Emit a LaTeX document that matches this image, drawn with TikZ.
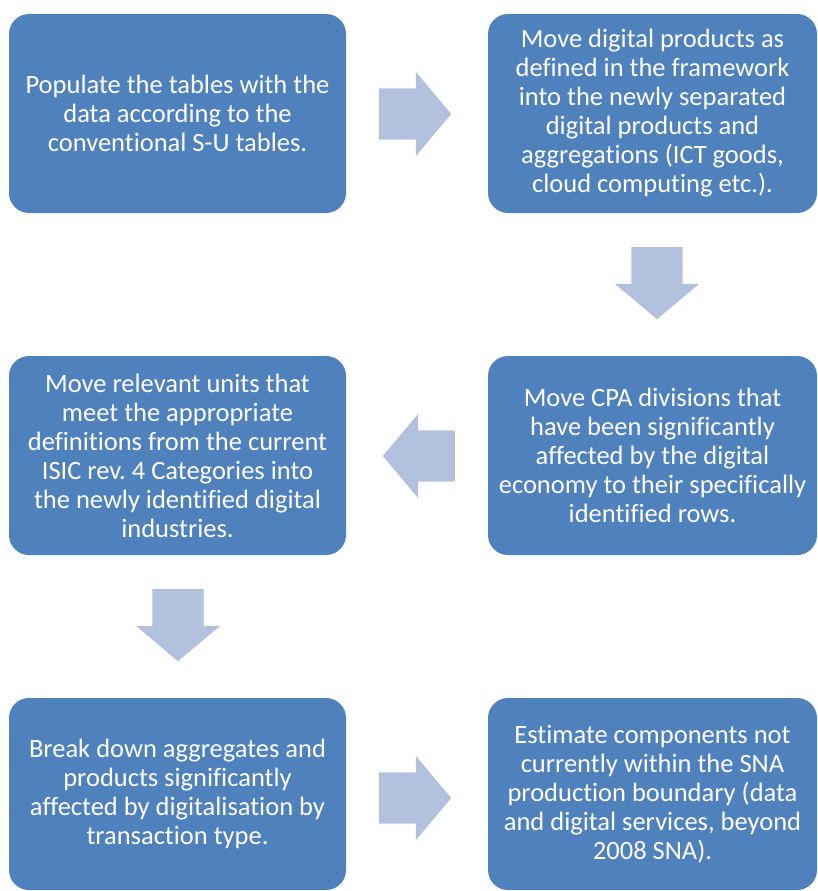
\documentclass[tikz,border=0pt]{standalone}
\usepackage{fontspec}
\setmainfont[Ligatures=NoCommon]{Carlito}
\usetikzlibrary{shapes.arrows}
\definecolor{stepblue}{HTML}{4F81BD}
\definecolor{arrowblue}{HTML}{B2C1DE}
\begin{document}
\begin{tikzpicture}[x=1pt,y=1pt,
    stepbox/.style={rectangle, rounded corners=20pt, fill=stepblue, text=white,
      align=center, inner sep=0pt, minimum width=337pt, minimum height=199pt,
      font=\fontsize{26.5}{29}\selectfont\frenchspacing},
    blockarrow/.style={single arrow, fill=arrowblue, inner xsep=0pt, inner ysep=25.5pt,
      minimum height=72pt, single arrow head extend=16.5pt,
      single arrow tip angle=100, anchor=tail}]
    \useasboundingbox (0,0) rectangle (817,-891);
    \node[stepbox] (populate) at (177.5,-113.5) {Populate the tables with the\\data according to the\\conventional S-U tables.};
    \node[stepbox, minimum width=329pt] (digprod) at (652.5,-113.5) {Move digital products as\\defined in the framework\\into the newly separated\\digital products and\\aggregations (ICT goods,\\cloud computing etc.).};
    \node[stepbox, minimum width=329pt] (cpadiv) at (652.5,-455.5) {Move CPA divisions that\\have been significantly\\affected by the digital\\economy to their specifically\\identified rows.};
    \node[stepbox] (units) at (177.5,-455.5) {Move relevant units that\\meet the appropriate\\definitions from the current\\ISIC rev. 4 Categories into\\the newly identified digital\\industries.};
    \node[stepbox, minimum height=192pt] (breakdown) at (177.5,-794) {Break down aggregates and\\products significantly\\affected by digitalisation by\\transaction type.};
    \node[stepbox, minimum width=329pt, minimum height=192pt] (estimate) at (652.5,-794) {Estimate components not\\currently within the SNA\\production boundary (data\\and digital services, beyond\\2008 SNA).};
    \node[blockarrow] (populate-digprod) at (379,-114) {};
    \node[blockarrow, rotate=-90] (digprod-cpadiv) at (657,-247) {};
    \node[blockarrow, rotate=180] (cpadiv-units) at (455,-456) {};
    \node[blockarrow, rotate=-90] (units-breakdown) at (178,-589) {};
    \node[blockarrow] (breakdown-estimate) at (379,-798) {};
\end{tikzpicture}
\end{document}
